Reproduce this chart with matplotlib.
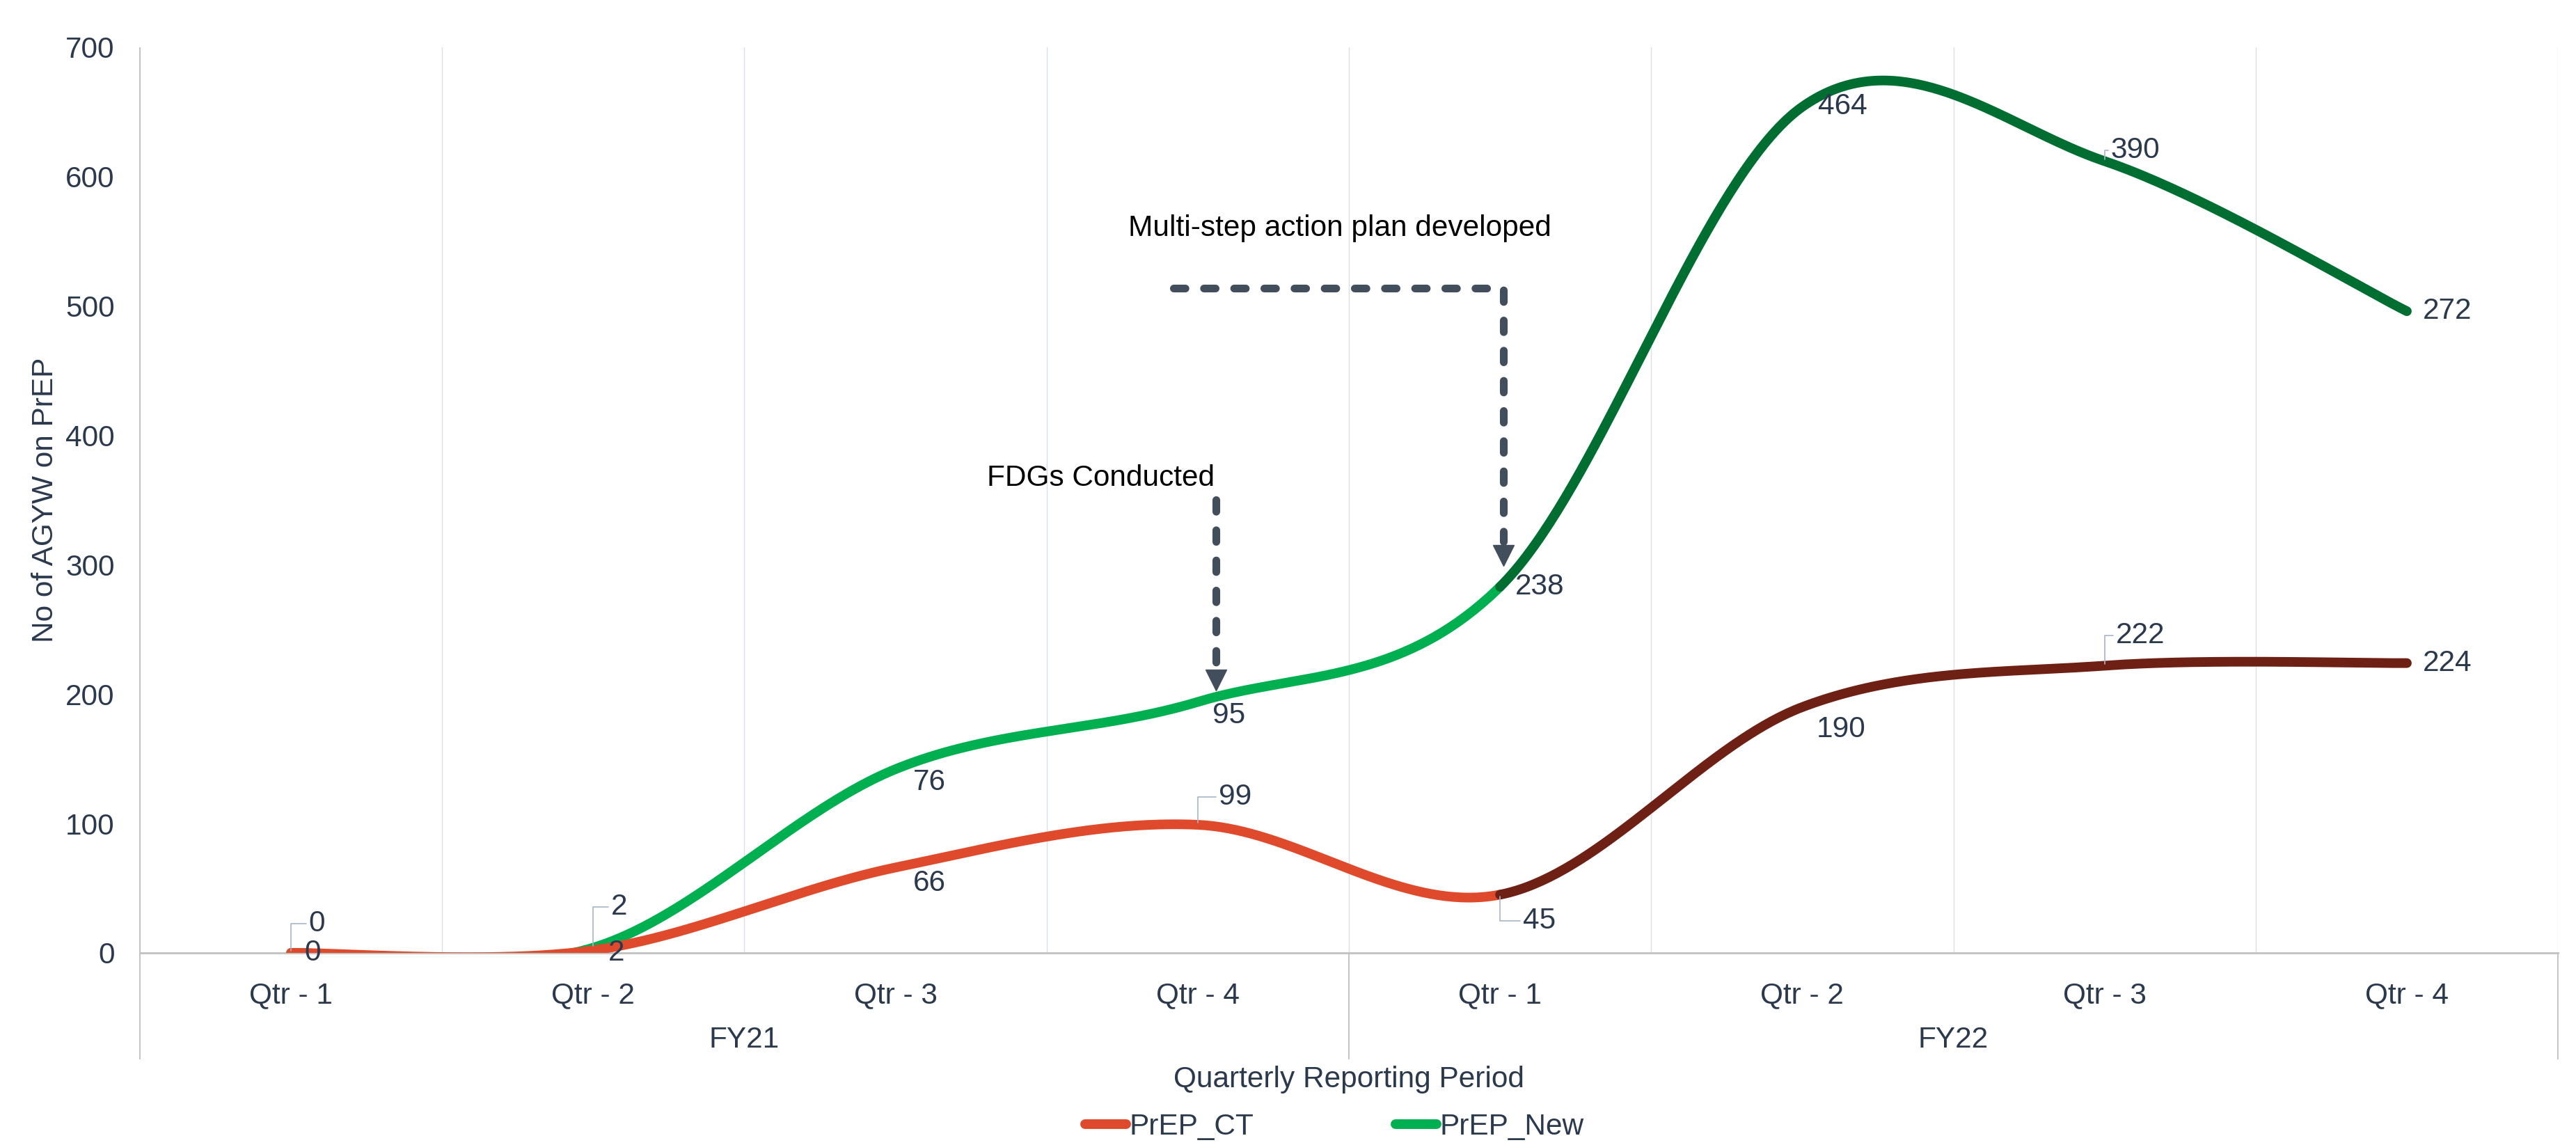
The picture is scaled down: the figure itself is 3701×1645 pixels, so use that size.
"""Stacked smoothed line chart: AGYW on PrEP by quarter, FY21-FY22."""

import numpy as np
import matplotlib
matplotlib.use("Agg")
import matplotlib.pyplot as plt
from matplotlib.lines import Line2D

plt.rcParams["font.family"] = ["Liberation Sans", "DejaVu Sans"]

# ---- data -------------------------------------------------------------
quarters = ["Qtr - 1", "Qtr - 2", "Qtr - 3", "Qtr - 4",
            "Qtr - 1", "Qtr - 2", "Qtr - 3", "Qtr - 4"]
years = ["FY21", "FY22"]
prep_ct = [0, 2, 66, 99, 45, 190, 222, 224]
prep_new = [0, 2, 76, 95, 238, 464, 390, 272]

# ---- style ------------------------------------------------------------
CT_LIGHT, CT_DARK = "#DF4A2C", "#6E2014"
NEW_LIGHT, NEW_DARK = "#00B050", "#006E31"
TXT = "#2B394D"
ARROW = "#434E5C"
FS = 30.5
LW = 10

# label offsets (points) relative to each data point
ct_off = [(22, 0), (24, -3), (35, -16), (39, 29), (41, -27), (40, -23), (37, 31), (42, 0)]
new_off = [(27, 30), (27, 42), (35, -14), (32, -14), (41, 0), (42, 0), (32, 11), (42, 0)]
ct_leader = [False, False, False, True, True, False, True, False]
new_leader = [True, True, False, False, False, False, True, False]


def smooth_segments(y, n=80):
    """Excel-like Bezier smoothing; returns one point array per segment."""
    y = np.asarray(y, dtype=float)
    x = np.arange(len(y), dtype=float)
    pts = np.column_stack([x, y])
    t = np.linspace(0, 1, n)[:, None]
    segs = []
    for i in range(len(pts) - 1):
        p0 = pts[i - 1] if i > 0 else pts[i]
        p1, p2 = pts[i], pts[i + 1]
        p3 = pts[i + 2] if i + 2 < len(pts) else pts[i + 1]
        c1 = p1 + (p2 - p0) / 6
        c2 = p2 - (p3 - p1) / 6
        b = ((1 - t) ** 3) * p1 + 3 * ((1 - t) ** 2) * t * c1 \
            + 3 * (1 - t) * t ** 2 * c2 + t ** 3 * p2
        segs.append(b)
    return segs


def draw_series(ax, y, light, dark, split, z):
    segs = smooth_segments(y)
    first = np.vstack(segs[:split])
    second = np.vstack(segs[split:])
    ax.plot(first[:, 0], first[:, 1], color=light, lw=LW, zorder=z,
            solid_capstyle="round")
    ax.plot(second[:, 0], second[:, 1], color=dark, lw=LW, zorder=z,
            solid_capstyle="round")


def main():
    fig = plt.figure(figsize=(37.01, 16.45), dpi=100)
    ax = fig.add_axes([0.0543, 0.1678, 0.9387, 0.7909])

    stacked_new = [c + n for c, n in zip(prep_ct, prep_new)]
    x = np.arange(len(quarters))

    draw_series(ax, stacked_new, NEW_LIGHT, NEW_DARK, 4, 3)
    draw_series(ax, prep_ct, CT_LIGHT, CT_DARK, 4, 4)

    # data labels
    for vals, ys, offs, leads in ((prep_new, stacked_new, new_off, new_leader),
                                  (prep_ct, prep_ct, ct_off, ct_leader)):
        for xi, v, yv, off, lead in zip(x, vals, ys, offs, leads):
            kw = {}
            if lead:
                kw["arrowprops"] = dict(arrowstyle="-", color="#A7B5C8", lw=1.2,
                                        shrinkA=1, shrinkB=2,
                                        connectionstyle="angle,angleA=0,angleB=90,rad=0",
                                        relpos=(0, 0.5))
            ax.annotate(str(v), xy=(xi, yv), xytext=off, textcoords="offset points",
                        ha="center", va="center", fontsize=FS, color=TXT,
                        zorder=6, **kw)

    # axes
    ax.set_xlim(-0.5, 7.5)
    ax.set_ylim(0, 700)
    ax.set_xticks(x)
    ax.set_xticklabels(quarters)
    ax.set_xticks(np.arange(-0.5, 8, 1), minor=True)
    ax.set_yticks(np.arange(0, 701, 100))
    ax.tick_params(axis="both", which="both", length=0, labelsize=FS, colors=TXT)
    ax.tick_params(axis="x", pad=30)
    ax.tick_params(axis="y", pad=26)
    ax.grid(which="minor", axis="x", color="#DAE0E8", lw=1.0)
    ax.grid(which="major", visible=False)
    for side in ("top", "right", "left"):
        ax.spines[side].set_visible(False)
    ax.spines["bottom"].set_color("#C4C4C4")
    ax.spines["bottom"].set_linewidth(2.2)

    # group separators and year labels below the axis
    ax.vlines([-0.5, 3.5, 7.5], -0.118, 0, transform=ax.get_xaxis_transform(),
              colors="#C4C4C4", lw=1.4, clip_on=False)
    ax.vlines([-0.5], 0, 1, transform=ax.get_xaxis_transform(),
              colors="#C4C4C4", lw=1.4, clip_on=False)
    for i, yr in enumerate(years):
        ax.text(1.5 + 4 * i, -0.096, yr, transform=ax.get_xaxis_transform(),
                ha="center", va="center", fontsize=FS, color=TXT)

    ax.set_xlabel("Quarterly Reporting Period", fontsize=FS, color=TXT)
    ax.xaxis.set_label_coords(0.5, -0.14)
    ax.xaxis.label.set_va("center")
    ax.set_ylabel("No of AGYW on PrEP", fontsize=FS, color=TXT)
    ax.yaxis.set_label_coords(-0.039, 0.5)
    ax.yaxis.label.set_va("center")

    # annotations
    dash = (0, (1.5, 2.4))
    ax.plot([2.92, 4.01, 4.01], [514, 514, 318], color=ARROW, lw=8,
            ls=dash, dash_capstyle="round", zorder=5)
    ax.plot([4.01], [307], marker="v", ms=22, color=ARROW, zorder=5)
    ax.text(3.47, 560, "Multi-step action plan developed", ha="center",
            va="center", fontsize=FS, color="black")

    ax.plot([3.06, 3.06], [350, 222], color=ARROW, lw=8,
            ls=dash, dash_capstyle="round", zorder=5)
    ax.plot([3.06], [211], marker="v", ms=22, color=ARROW, zorder=5)
    ax.text(2.68, 367, "FDGs Conducted", ha="center", va="center",
            fontsize=FS, color="black")

    handles = [Line2D([], [], color=CT_LIGHT, lw=LW, solid_capstyle="round"),
               Line2D([], [], color=NEW_LIGHT, lw=LW, solid_capstyle="round")]
    ax.legend(handles, ["PrEP_CT", "PrEP_New"], loc="center",
              bbox_to_anchor=(0.494, -0.192), ncol=2, frameon=False,
              fontsize=FS, labelcolor=TXT, handlelength=1.4,
              handletextpad=0.1, columnspacing=4.8)

    fig.savefig("out.png", dpi=100, facecolor="white")


if __name__ == "__main__":
    main()
